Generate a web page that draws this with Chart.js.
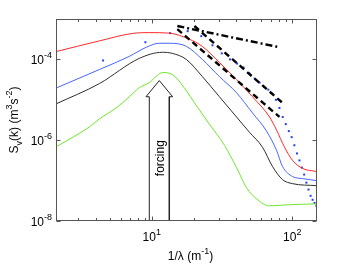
<!DOCTYPE html>
<html>
<head>
<meta charset="utf-8">
<script src="https://cdn.jsdelivr.net/npm/chart.js@4.4.1/dist/chart.umd.min.js"></script>
<style>
  html, body { margin: 0; padding: 0; background: #fff; }
  #wrap { width: 351px; height: 265px; }
</style>
</head>
<body>
<div id="wrap"><canvas id="spec" width="351" height="265"></canvas></div>
<script>
// spectra S_v(k) against 1/lambda
const redK = [2.08, 4.23, 7.26, 9.6, 13.3, 18.5, 22.9, 30.3, 40.1, 52.1, 68.9, 77.3, 88.1, 100.5, 118.5, 149]
const redS = [1.56e-4, 2.87e-4, 4.39e-4, 4.6e-4, 4.47e-4, 3.16e-4, 2.1e-4, 8.4e-5, 3.16e-5, 1.19e-5, 3.76e-6, 1.78e-6, 6.7e-7, 3.16e-7, 2.0e-7, 1.68e-7]

const blueK = [2.12, 4.23, 6.92, 9.14, 11.3, 13.3, 17.6, 22.9, 30.3, 40.1, 52.1, 65.6, 77.3, 85.2, 100.5, 118.5, 149]
const blueS = [2.0e-5, 5.6e-5, 1.19e-4, 2.0e-4, 2.51e-4, 2.51e-4, 2.11e-4, 1.0e-4, 3.76e-5, 1.5e-5, 4.73e-6, 1.68e-6, 5.6e-7, 2.24e-7, 1.26e-7, 1.12e-7, 1.0e-7]

const blackK = [2.08, 4.23, 8.15, 11.9, 14.0, 17.6, 22.9, 30.3, 40.1, 49.5, 61.4, 72.3, 85.2, 100.5, 149]
const blackS = [7.9e-6, 2.51e-5, 1.06e-4, 1.5e-4, 1.41e-4, 1.0e-4, 3.76e-5, 1.19e-5, 3.76e-6, 1.58e-6, 6.7e-7, 2.24e-7, 1.06e-7, 8.4e-8, 7.5e-8]

const greenK = [2.12, 3.58, 4.23, 5.58, 6.92, 8.15, 9.6, 10.9, 11.9, 14.0, 17.0, 20.8, 25.7, 32.9, 40.1, 47.2, 55.6, 68.9, 91.0, 149]
const greenS = [7.1e-7, 2.11e-6, 3.35e-6, 6.3e-6, 1.19e-5, 2.0e-5, 2.66e-5, 3.98e-5, 4.73e-5, 4.22e-5, 2.0e-5, 7.1e-6, 2.51e-6, 7.5e-7, 2.11e-7, 6.7e-8, 3.55e-8, 2.37e-8, 2.51e-8, 2.66e-8]

const dotK = [4.5, 9, 13.5, 18, 22.5, 27, 31.5, 36, 40.5, 45, 49.5, 54, 58.5, 63, 67.5, 72, 76.5, 81, 85.5, 90, 94.5, 99, 103.5, 108, 112.5, 117, 121.5, 126, 130.5, 135, 139.5, 144, 148.5]
const dotS = [9.4e-5, 2.66e-4, 4.47e-4, 5.0e-4, 3.76e-4, 2.24e-4, 1.41e-4, 1.0e-4, 7.9e-5, 6.3e-5, 4.5e-5, 3.35e-5, 2.66e-5, 2.1e-5, 1.78e-5, 1.41e-5, 1.0e-5, 6.3e-6, 3.76e-6, 2.5e-6, 1.68e-6, 1.19e-6, 7.5e-7, 4.7e-7, 3.16e-7, 2.1e-7, 1.41e-7, 8.9e-8, 6.0e-8, 4.2e-8, 3.35e-8, 2.8e-8, 2.37e-8]

// reference slopes
const slopeAK = [15.2, 81.1]
const slopeAS = [5.6e-4, 3.76e-6]
const slopeBK = [20.1, 85.2]
const slopeBS = [6.7e-4, 8.4e-6]
const slopeCK = [15.2, 81.1]
const slopeCS = [6.7e-4, 2.0e-4]

// forcing arrow outline
const arrowK = [9.6, 9.6, 9.09, 11.31, 14.08, 13.33, 13.33]
const arrowS = [1e-8, 1.19e-5, 1.19e-5, 2.99e-5, 1.19e-5, 1.19e-5, 1e-8]

const xMajor = [10, 100]
const xMajorExp = ['1', '2']
const xMinor = [3, 4, 5, 6, 7, 8, 9, 20, 30, 40, 50, 60, 70, 80, 90]
const yMajor = [1e-8, 1e-6, 1e-4]
const yMajorExp = ['-8', '-6', '-4']

const fontFam = '"Liberation Sans", Arial, Helvetica, sans-serif'

const pts = (ks, ss) => ks.map((k, i) => ({ x: k, y: ss[i] }))

function curve(ks, ss, color) {
    return {
        data: pts(ks, ss), showLine: true, borderColor: color, borderWidth: 1,
        pointRadius: 0, cubicInterpolationMode: 'monotone', order: 2
    }
}

function slope(ks, ss, dash) {
    return {
        data: pts(ks, ss), showLine: true, borderColor: '#000', borderWidth: 2.4,
        borderDash: dash, pointRadius: 0, order: 0
    }
}

// draw text with super/subscripts, kind: 0 normal, 1 sup, -1 sub
function drawRich(ctx, runs, x, y, size, align) {
    const fontOf = k => (k ? Math.round(size * 0.72) : size) + 'px ' + fontFam
    let w = 0
    runs.forEach(([t, k]) => { ctx.font = fontOf(k); w += ctx.measureText(t).width })
    let cx = align === 'right' ? x - w : align === 'center' ? x - w / 2 : x
    ctx.textAlign = 'left'
    ctx.textBaseline = 'alphabetic'
    runs.forEach(([t, k]) => {
        ctx.font = fontOf(k)
        const dy = k > 0 ? -size * 0.5 : k < 0 ? size * 0.3 : 0
        ctx.fillText(t, cx, y + dy)
        cx += ctx.measureText(t).width
    })
}

const frame = {
    id: 'frame',
    afterDraw(chart) {
        const { ctx, chartArea: a, scales: { x, y } } = chart
        ctx.save()
        ctx.strokeStyle = '#555'
        ctx.lineWidth = 1
        const L = Math.round(a.left) + 0.5, R = Math.round(a.right) - 0.5
        const T = Math.round(a.top) + 0.5, B = Math.round(a.bottom) - 0.5
        ctx.strokeRect(L, T, R - L, B - T)
        ctx.beginPath()
        const xt = (v, len) => {
            const px = Math.round(x.getPixelForValue(v)) + 0.5
            ctx.moveTo(px, B); ctx.lineTo(px, B - len)
            ctx.moveTo(px, T); ctx.lineTo(px, T + len)
        }
        xMajor.forEach(v => xt(v, 4))
        xMinor.forEach(v => xt(v, 2.5))
        yMajor.forEach(v => {
            const py = Math.round(y.getPixelForValue(v)) + 0.5
            ctx.moveTo(L, py); ctx.lineTo(L + 4, py)
            ctx.moveTo(R, py); ctx.lineTo(R - 4, py)
        })
        ctx.stroke()

        ctx.fillStyle = '#000'
        yMajor.forEach((v, i) => {
            const py = y.getPixelForValue(v)
            drawRich(ctx, [['10', 0], [yMajorExp[i], 1]], a.left - 4, py + 4.5, 12, 'right')
        })
        xMajor.forEach((v, i) => {
            const px = x.getPixelForValue(v)
            drawRich(ctx, [['10', 0], [xMajorExp[i], 1]], px, a.bottom + 20, 12, 'center')
        })
        drawRich(ctx, [['1/λ (m', 0], ['-1', 1], [')', 0]], (a.left + a.right) / 2 + 4, 260, 12, 'center')

        ctx.save()
        ctx.translate(18, (a.top + a.bottom) / 2)
        ctx.rotate(-Math.PI / 2)
        drawRich(ctx, [['S', 0], ['v', -1], ['(k) (m', 0], ['3', 1], ['s', 0], ['-2', 1], [')', 0]], 0, 0, 12, 'center')
        ctx.restore()

        ctx.save()
        ctx.translate(x.getPixelForValue(arrowK[3]) + 5, y.getPixelForValue(3.6e-7))
        ctx.rotate(-Math.PI / 2)
        drawRich(ctx, [['forcing', 0]], 0, 0, 12, 'center')
        ctx.restore()
        ctx.restore()
    }
}

window.onload = function () {
    const ctx = document.getElementById('spec')
    new Chart(ctx, {
        type: 'scatter',
        data: {
            datasets: [
                slope(slopeAK, slopeAS, [6, 4]),
                slope(slopeBK, slopeBS, [6, 4]),
                slope(slopeCK, slopeCS, [7, 3, 2, 3]),
                {
                    data: pts(arrowK, arrowS), showLine: true, borderColor: '#222', borderWidth: 1,
                    pointRadius: 0, tension: 0, order: 1
                },
                curve(redK, redS, 'rgb(255,40,40)'),
                curve(blueK, blueS, 'rgb(70,100,255)'),
                curve(blackK, blackS, 'rgb(45,45,45)'),
                curve(greenK, greenS, 'rgb(110,230,40)'),
                {
                    data: pts(dotK, dotS), showLine: false, pointStyle: 'rect', pointRadius: 1.4,
                    backgroundColor: 'rgb(30,60,255)', borderWidth: 0, order: 3
                }
            ]
        },
        options: {
            responsive: false,
            animation: false,
            devicePixelRatio: 1,
            layout: { padding: { left: 56, top: 19, right: 34, bottom: 44 } },
            plugins: { legend: { display: false }, tooltip: { enabled: false } },
            scales: {
                x: {
                    type: 'logarithmic', min: 2.08, max: 150,
                    ticks: { display: false }, grid: { display: false }, border: { display: false },
                    afterFit: s => { s.height = 0 }
                },
                y: {
                    type: 'logarithmic', min: 1e-8, max: 1e-3,
                    ticks: { display: false }, grid: { display: false }, border: { display: false },
                    afterFit: s => { s.width = 0 }
                }
            }
        },
        plugins: [frame]
    })
}
</script>
</body>
</html>
